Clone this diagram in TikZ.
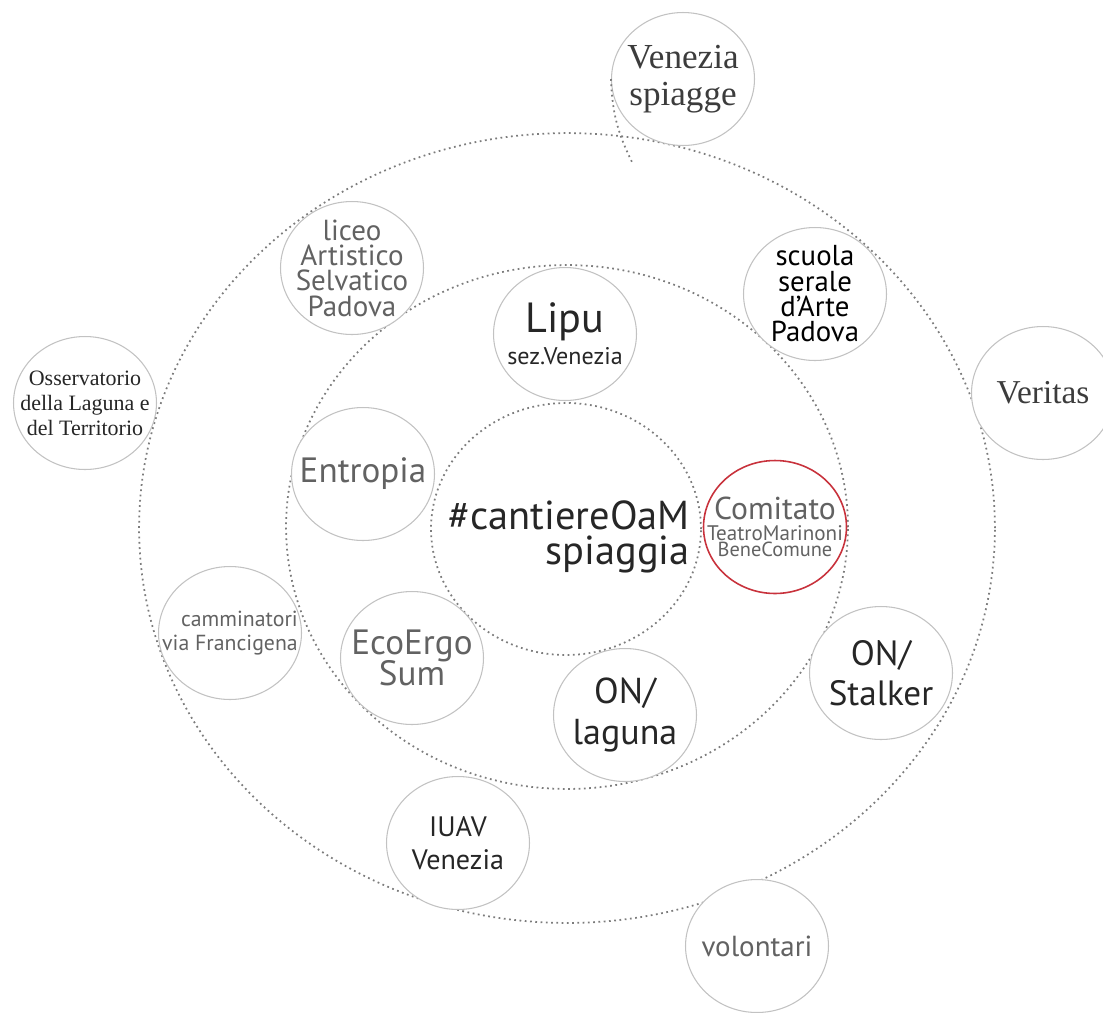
\documentclass[tikz,border=0pt]{standalone}
\usepackage{fontspec}
\setmainfont{Liberation Serif}
\setsansfont{PT Sans}
\usetikzlibrary{shapes.geometric}
\setlength{\lineskiplimit}{-100pt}
\definecolor{ringgray}{HTML}{C2C2C2}
\definecolor{dotgray}{HTML}{7C7C7C}
\definecolor{inkdark}{HTML}{262626}
\definecolor{inkgray}{HTML}{626262}
\definecolor{comred}{HTML}{C8323C}
\tikzset{
  bubble/.style={ellipse, draw=ringgray, fill=white, line width=0.6pt, inner sep=-1.5cm,
    minimum width=2.86cm, minimum height=2.66cm, align=center, text=inkdark},
  orbit/.style={draw=dotgray, line width=1pt, dash pattern=on 1pt off 2pt},
}
\begin{document}
\begin{tikzpicture}[x=0.02cm, y=-0.02cm]
    \useasboundingbox (0,0) rectangle (1103,1012);
    % rings
    \draw[orbit] (567,528) ellipse [x radius=8.56cm, y radius=7.9cm];
    \draw[orbit] (567,527) ellipse [x radius=5.62cm, y radius=5.24cm];
    \draw[orbit] (566,529) ellipse [x radius=2.7cm, y radius=2.52cm];
    \node[align=right, text=inkdark, font=\sffamily\fontsize{23}{20}\selectfont] (oam) at (569,537) {\#cantiereOaM\\spiaggia};
    % outer ring
    \node[bubble, font=\rmfamily\fontsize{20}{21}\selectfont, text=inkdark!90] (vs) at (683,79) {Venezia\\spiagge};
    \node[bubble, font=\rmfamily\fontsize{12.5}{14.2}\selectfont] (osserv) at (85,403) {Osservatorio\\della Laguna e\\del Territorio};
    \node[bubble, font=\rmfamily\fontsize{19}{20}\selectfont, text=inkdark!90] (veritas) at (1043,393) {Veritas};
    \node[bubble, font=\sffamily\fontsize{16.5}{18}\selectfont, text=inkgray] (volontari) at (757,946) {volontari};
    % middle ring
    \node[bubble, font=\sffamily\fontsize{16.5}{14.4}\selectfont, text=inkgray] (liceo) at (352,268) {liceo\\Artistico\\Selvatico\\Padova};
    \node[bubble, font=\sffamily\fontsize{16.4}{14.4}\selectfont, text=black] (scuola) at (815,294) {scuola\\serale\\d’Arte\\Padova};
    \node[bubble, align=right, font=\sffamily\fontsize{12.4}{13.8}\selectfont, text=inkgray] (cammin) at (230,633) {camminatori\\via Francigena};
    \node[bubble, font=\sffamily\fontsize{20}{23}\selectfont] (stalker) at (881,673) {ON/\\Stalker};
    \node[bubble, font=\sffamily\fontsize{16}{19}\selectfont] (iuav) at (458,843) {IUAV\\Venezia};
    % inner ring
    \node[bubble, font=\sffamily\fontsize{24}{18}\selectfont] (lipu) at (565,334) {Lipu\\{\fontsize{13.7}{16}\selectfont sez.Venezia}};
    \node[bubble, font=\sffamily\fontsize{20}{20}\selectfont, text=inkgray] (entropia) at (363,474) {Entropia};
    \node[bubble, draw=comred, line width=0.9pt, font=\sffamily\fontsize{18}{9.6}\selectfont, text=inkgray] (comitato) at (775,527) {Comitato\\[2.2pt]{\fontsize{12}{12}\selectfont TeatroMarinoni}\\{\fontsize{11.6}{12}\selectfont BeneComune}};
    \node[bubble, font=\sffamily\fontsize{20}{18}\selectfont, text=inkgray] (ecoergo) at (412,658) {EcoErgo\\Sum};
    \node[bubble, font=\sffamily\fontsize{20.5}{23}\selectfont] (laguna) at (625,715) {ON/\\laguna};
    \coordinate (stub) at (632,162);
    \draw[orbit] (vs.west) to[bend right=12] (stub);
\end{tikzpicture}
\end{document}
